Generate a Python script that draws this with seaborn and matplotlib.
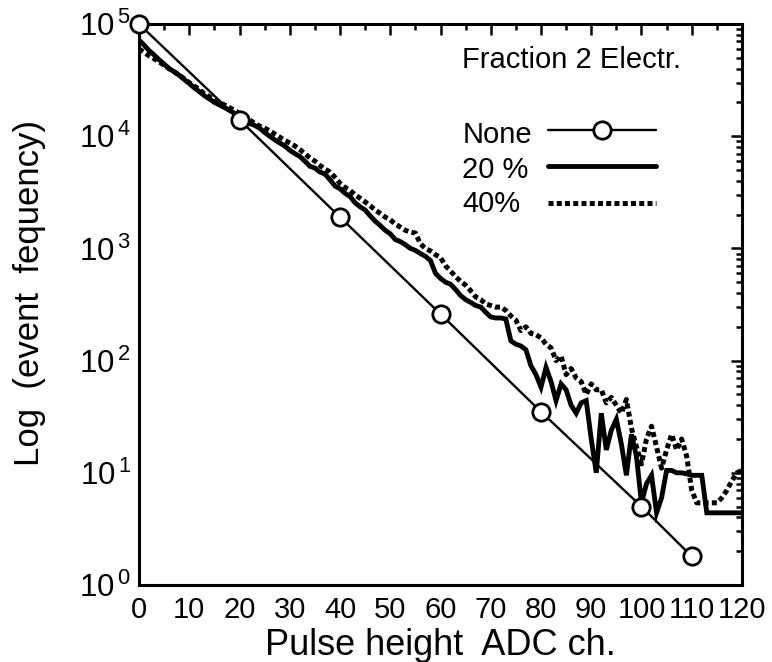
import numpy as np
import pandas as pd
import matplotlib
matplotlib.use("Agg")
import matplotlib.pyplot as plt
from matplotlib.ticker import MultipleLocator, LogLocator, FuncFormatter, NullFormatter
from matplotlib.lines import Line2D
import seaborn as sns

# ---- data -------------------------------------------------------------
# Pure single-electron spectrum (sampled points, straight line on log scale)
none_channels = [0, 20, 40, 60, 80, 100, 110]
none_counts = [1.0e5, 1.4e4, 1.9e3, 2.6e2, 35, 5.0, 1.8]

channels = list(range(0, 121))

# 20 % two-electron fraction
frac20_counts = [
    72000, 65000, 58000, 53000, 48000, 44000, 40000, 37500, 35000, 32000,
    29500, 27000, 25000, 23000, 21500, 20000, 19000, 18000, 17000, 16000,
    15000, 14000, 13000, 12500, 11800, 10800, 10000, 9300, 8700, 8200,
    7500, 7000, 6600, 6000, 5400, 5200, 4800, 4600, 4100, 3600,
    3400, 3100, 2900, 2550, 2350, 2200, 1950, 1750, 1600, 1450,
    1350, 1200, 1150, 1080, 1000, 960, 900, 850, 780, 600,
    540, 500, 480, 430, 380, 350, 330, 310, 300, 270,
    245, 240, 240, 235, 150, 140, 135, 125, 90, 75,
    58, 87, 65, 44, 62, 55, 40, 34, 42, 44,
    20, 10, 34, 16, 24, 30, 18, 9.5, 22, 14,
    5.4, 8, 9.5, 4.4, 6, 10.5, 10.5, 10, 10, 9.8,
    9.5, 9.5, 9.5, 4.4, 4.4, 4.4, 4.4, 4.4, 4.4, 4.4,
    4.4,
]

# 40 % two-electron fraction
frac40_counts = [
    60000, 56000, 52000, 49000, 46000, 43000, 40000, 37500, 35000, 32500,
    30000, 28000, 26000, 24000, 22500, 21000, 20000, 19000, 18000, 17000,
    16000, 15000, 14000, 13000, 12300, 11800, 11200, 10500, 9800, 9200,
    8700, 8200, 7600, 7000, 6400, 6000, 5500, 5100, 4800, 4300,
    3800, 3500, 3300, 3000, 2800, 2600, 2400, 2200, 2050, 1900,
    1800, 1650, 1550, 1450, 1400, 1370, 1100, 1000, 950, 880,
    830, 700, 630, 560, 510, 470, 420, 370, 350, 320,
    310, 300, 300, 280, 250, 230, 185, 200, 175, 170,
    160, 140, 130, 100, 110, 75, 85, 70, 65, 50,
    62, 55, 55, 42, 47, 40, 34, 45, 25, 17,
    12, 20, 26, 17, 11, 16, 22, 16, 20, 14,
    7, 5.4, 5.4, 5.4, 5.4, 5.4, 6, 7, 8.5, 10,
    10.5,
]

series_labels = ["None", "20 %", "40%"]
legend_title = "Fraction 2 Electr."
x_label = "Pulse height  ADC ch."
y_label = "Log  (event  fequency)"

df_none = pd.DataFrame({"ch": none_channels, "counts": none_counts})
df_20 = pd.DataFrame({"ch": channels, "counts": frac20_counts})
df_40 = pd.DataFrame({"ch": channels, "counts": frac40_counts})

# ---- style ------------------------------------------------------------
sns.set_style("white")
plt.rcParams["font.family"] = ["Liberation Sans", "DejaVu Sans"]
plt.rcParams["mathtext.fontset"] = "custom"
plt.rcParams["mathtext.rm"] = "Liberation Sans"
plt.rcParams["mathtext.it"] = "Liberation Sans:italic"
plt.rcParams["mathtext.bf"] = "Liberation Sans:bold"
for key in ["text.color", "axes.labelcolor", "xtick.color", "ytick.color"]:
    plt.rcParams[key] = "black"

fig = plt.figure(figsize=(7.72, 6.62), dpi=100)
ax = fig.add_axes([0.1801, 0.1163, 0.7810, 0.8474])

# ---- curves -----------------------------------------------------------
sns.lineplot(data=df_40, x="ch", y="counts", ax=ax, color="black",
             linewidth=3.6, linestyle=(0, (1.0, 0.65)), estimator=None,
             solid_capstyle="butt", dash_capstyle="butt", zorder=2)
sns.lineplot(data=df_20, x="ch", y="counts", ax=ax, color="black",
             linewidth=3.5, estimator=None, solid_joinstyle="miter",
             zorder=3)
sns.lineplot(data=df_none, x="ch", y="counts", ax=ax, color="black",
             linewidth=1.7, marker="o", markersize=12.5,
             markerfacecolor="white", markeredgecolor="black",
             markeredgewidth=2.0, estimator=None, zorder=4, clip_on=False)

# ---- axes -------------------------------------------------------------
ax.set_yscale("log")
ax.set_xlim(0, 120)
ax.set_ylim(1, 1e5)

ax.xaxis.set_major_locator(MultipleLocator(10))
ax.xaxis.set_minor_locator(MultipleLocator(5))
ax.yaxis.set_major_locator(LogLocator(base=10, numticks=10))
ax.yaxis.set_minor_locator(LogLocator(base=10, subs=np.arange(2, 10), numticks=20))
ax.yaxis.set_minor_formatter(NullFormatter())
ax.yaxis.set_major_formatter(
    FuncFormatter(lambda v, p: r"$\mathdefault{10^{\,%d}}$" % int(round(np.log10(v)))))

for s in ax.spines.values():
    s.set_linewidth(2.2)
    s.set_color("black")

ax.tick_params(which="both", direction="in", top=True, right=True,
               color="black", width=1.8)
ax.tick_params(which="major", length=8)
ax.tick_params(which="minor", length=4.5)
ax.tick_params(axis="x", which="major", labelsize=21, pad=8)
ax.tick_params(axis="y", which="major", labelsize=22.5, pad=6)

ax.set_xlabel(x_label, fontsize=26, labelpad=3)
ax.set_ylabel(y_label, fontsize=25)
ax.yaxis.set_label_coords(-0.155, 0.52)

# ---- legend -----------------------------------------------------------
ax.text(0.536, 0.936, legend_title, transform=ax.transAxes,
        fontsize=21, ha="left", va="center")

handles = [
    Line2D([], [], color="black", linewidth=1.7, marker="o", markersize=12.5,
           markerfacecolor="white", markeredgewidth=2.0),
    Line2D([], [], color="black", linewidth=3.5),
    Line2D([], [], color="black", linewidth=3.6, linestyle=(0, (1.0, 0.65))),
]
leg = ax.legend(handles, ["", "", ""], loc="upper left",
                bbox_to_anchor=(0.678, 0.833), frameon=False, fontsize=21,
                handlelength=3.7, handletextpad=0, labelspacing=0.3,
                borderpad=0, borderaxespad=0, markerscale=1.0)
row_y = [0.803, 0.739, 0.680]
for lab, yy in zip(series_labels, row_y):
    ax.text(0.536, yy, lab, transform=ax.transAxes, fontsize=21,
            ha="left", va="center")

fig.savefig("out.png", dpi=100)
